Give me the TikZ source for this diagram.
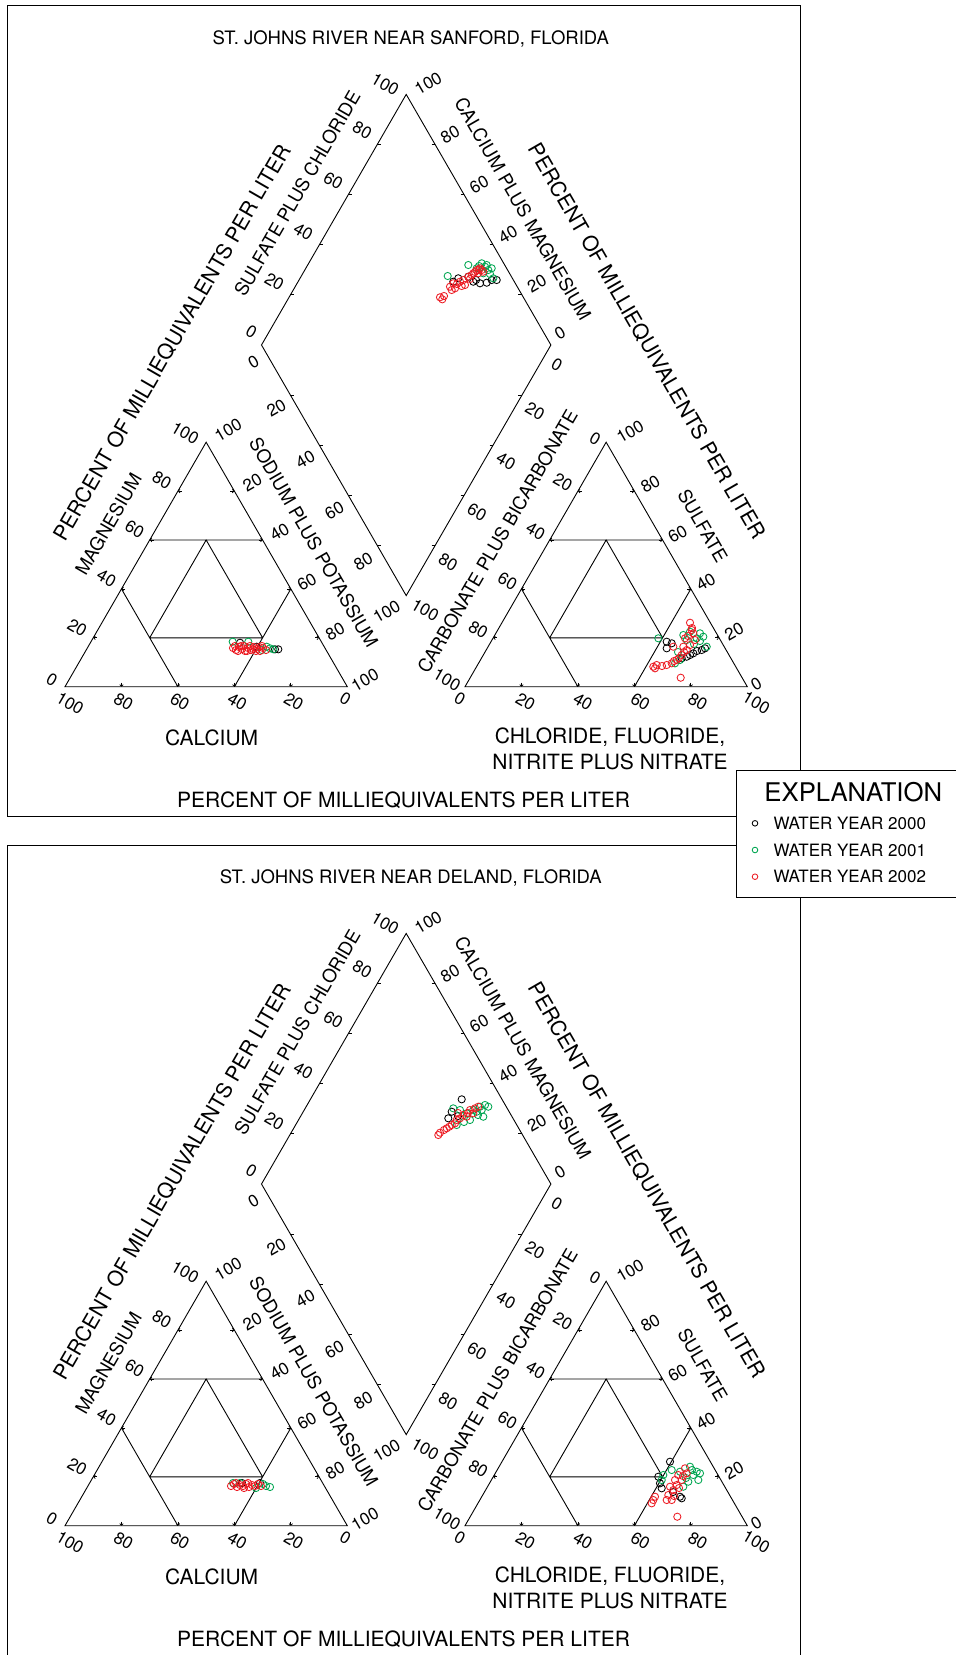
\documentclass[tikz,border=0pt]{standalone}
\usepackage{fontspec}
\setmainfont{TeX Gyre Heros}
\usetikzlibrary{arrows.meta}
\definecolor{dgreen}{RGB}{0,166,81}
\definecolor{dred}{RGB}{237,28,36}
\tikzset{
 axisline/.style={line width=0.9pt, line join=miter},
 tk/.style={line width=0.7pt, -{Straight Barb[length=1.6pt,width=3.6pt]}},
 dtick/.style={line width=0.8pt},
 num/.style={font=\fontsize{17}{17}\selectfont, inner sep=0pt},
 lbl/.style={font=\fontsize{18.5}{18.5}\selectfont, inner sep=0pt},
 big/.style={font=\fontsize{21}{21}\selectfont, inner sep=0pt},
 bsamp/.style={draw=black, line width=0.85pt},
 gsamp/.style={draw=dgreen, line width=0.85pt},
 rsamp/.style={draw=dred, line width=0.85pt},
 tri/.style={x={(282.3pt,0pt)}, y={(141.15pt,244.5pt)}},
 dia/.style={x={(144.7pt,250.6pt)}, y={(144.7pt,-250.6pt)}},
 frame/.style={line width=0.9pt},
}
\newcommand{\piperpanel}[2]{%
 \node[lbl] (#1title) at (410.7,39.2) {#2};
 % ---------- cation triangle
 \begin{scope}[shift={(65,686.7)}, tri]
  \draw[axisline] (0,0) coordinate (#1A) -- (1,0) coordinate (#1B) -- (0,1) coordinate (#1C) -- cycle;
  \draw[axisline] (0,0.6) -- (0.4,0.6) (0.2,0.2) -- (0.6,0.2) (0.2,0.2) -- (0.2,0.6) -- (0.6,0.2)
     (0,0.4) -- (0.4,0) (0.6,0.4) -- (0.6,0);
  \foreach \vv in {0.2,0.4,0.6,0.8}{
   \pgfmathsetmacro\ww{1-\vv}
   \draw[tk] ([xshift=4pt]0,\vv) -- (0,\vv);
   \draw[tk] ([xshift=-4pt]\ww,\vv) -- (\ww,\vv);
   \draw[tk] ([yshift=4pt]\vv,0) -- (\vv,0);
  }
  \foreach \vv/\lab/\dx/\dy in {1/100/-21/9, 0.8/80/-16/11, 0.6/60/-15/11, 0.4/40/-15/11, 0.2/20/-16/10, 0/0/-13/7}
   \node[num, rotate=-30] (#1mg\lab) at ([shift={(\dx pt,\dy pt)}]0,\vv) {\lab};
  \foreach \vv/\lab/\dx/\dy in {1/100/22/12, 0.8/20/18/8.5, 0.6/40/17/8, 0.4/60/16/7, 0.2/80/16/6.5, 0/100/17.7/6.7}{
   \pgfmathsetmacro\ww{1-\vv}
   \node[num, rotate=30] (#1na\vv) at ([shift={(\dx pt,\dy pt)}]\ww,\vv) {\lab};
  }
  \foreach \vv/\lab/\dx/\dy in {0/100/5/-16.6, 0.2/80/2/-15, 0.4/60/2/-15, 0.6/40/3/-15, 0.8/20/3/-15, 1/0/-2/-11.6}
   \node[num, rotate=-30] (#1ca\lab) at ([shift={(\dx pt,\dy pt)}]\vv,0) {\lab};
 \end{scope}
 % ---------- anion triangle
 \begin{scope}[shift={(465,686.7)}, tri]
  \draw[axisline] (0,0) coordinate (#1D) -- (1,0) coordinate (#1E) -- (0,1) coordinate (#1F) -- cycle;
  \draw[axisline] (0,0.6) -- (0.4,0.6) (0.2,0.2) -- (0.6,0.2) (0.2,0.2) -- (0.2,0.6) -- (0.6,0.2)
     (0,0.4) -- (0.4,0) (0.6,0.4) -- (0.6,0);
  \foreach \vv in {0.2,0.4,0.6,0.8}{
   \pgfmathsetmacro\ww{1-\vv}
   \draw[tk] ([xshift=4pt]0,\vv) -- (0,\vv);
   \draw[tk] ([xshift=-4pt]\ww,\vv) -- (\ww,\vv);
   \draw[tk] ([yshift=4pt]\vv,0) -- (\vv,0);
  }
  \foreach \vv/\lab/\dx/\dy in {1/0/-11/3, 0.8/20/-15/9, 0.6/40/-14/8.5, 0.4/60/-14/8, 0.2/80/-15/8, 0/100/-18/7}
   \node[num, rotate=-30] (#1co\lab) at ([shift={(\dx pt,\dy pt)}]0,\vv) {\lab};
  \foreach \vv/\lab/\dx/\dy in {1/100/24/10.5, 0.8/80/16/7, 0.6/60/15/6, 0.4/40/15/7, 0.2/20/15/6, 0/0/9/3}{
   \pgfmathsetmacro\ww{1-\vv}
   \node[num, rotate=30] (#1so\lab) at ([shift={(\dx pt,\dy pt)}]\ww,\vv) {\lab};
  }
  \foreach \vv/\lab/\dx/\dy in {0/0/-5/-11.6, 0.2/20/4/-15, 0.4/40/5/-15, 0.6/60/6/-15, 0.8/80/7/-15, 1/100/9/-16}
   \node[num, rotate=-30] (#1cl\lab) at ([shift={(\dx pt,\dy pt)}]\vv,0) {\lab};
 \end{scope}
 % ---------- diamond
 \begin{scope}[shift={(261.5,345)}, dia]
  \draw[axisline] (0,0) coordinate (#1L) -- (1,0) coordinate (#1T) -- (1,1) coordinate (#1R) -- (0,1) coordinate (#1Bm) -- cycle;
  \foreach \vv in {0.2,0.4,0.6,0.8}{
   \draw[dtick] ([xshift=3.5pt]\vv,0) -- (\vv,0);
   \draw[dtick] ([xshift=-3.5pt]1,\vv) -- (1,\vv);
   \draw[dtick] ([xshift=3.5pt]0,\vv) -- (0,\vv);
   \draw[dtick] ([xshift=-3.5pt]\vv,1) -- (\vv,1);
  }
  \foreach \vv/\lab/\dx/\dy in {1/100/-21/10, 0.8/80/-15/14, 0.6/60/-15/14, 0.4/40/-16/13, 0.2/20/-16/13, 0/0/-10/13}
   \node[num, rotate=-30] (#1sc\lab) at ([shift={(\dx pt,\dy pt)}]\vv,0) {\lab};
  \foreach \vv/\lab/\dx/\dy in {0/100/22/11, 0.2/80/15/10, 0.4/60/15/10, 0.6/40/15/10, 0.8/20/15/11, 1/0/9/12}
   \node[num, rotate=30] (#1cm\lab) at ([shift={(\dx pt,\dy pt)}]1,\vv) {\lab};
  \foreach \vv/\lab/\dx/\dy in {0/0/-8/-17, 0.2/20/-14/-13, 0.4/40/-14/-14, 0.6/60/-14/-15, 0.8/80/-14/-16, 1/100/-19.5/-16}
   \node[num, rotate=30] (#1ll\lab) at ([shift={(\dx pt,\dy pt)}]0,\vv) {\lab};
  \foreach \vv/\lab/\dx/\dy in {1/0/6/-20, 0.8/20/13/-16, 0.6/40/13/-16, 0.4/60/13/-17, 0.2/80/13/-17, 0/100/19/-14.4}
   \node[num, rotate=-30] (#1lr\lab) at ([shift={(\dx pt,\dy pt)}]\vv,1) {\lab};
 \end{scope}
 % ---------- axis titles
 \node[big, rotate=60] (#1pl) at (172.2,342.6) {PERCENT OF MILLIEQUIVALENTS PER LITER};
 \node[big, rotate=-60] (#1pr) at (646.7,341.3) {PERCENT OF MILLIEQUIVALENTS PER LITER};
 \node[lbl, rotate=60] (#1spc) at (297.2,193.5) {SULFATE PLUS CHLORIDE};
 \node[lbl, rotate=-60] (#1cpm) at (523,209.2) {CALCIUM PLUS MAGNESIUM};
 \node[lbl, rotate=60] (#1mag) at (108.4,524.3) {MAGNESIUM};
 \node[lbl, rotate=-60] (#1spp) at (313.8,542.6) {SODIUM PLUS POTASSIUM};
 \node[lbl, rotate=60] (#1cpb) at (497.5,541.3) {CARBONATE PLUS BICARBONATE};
 \node[lbl, rotate=-60] (#1sul) at (702.8,525.6) {SULFATE};
 \node[big] (#1cal) at (211.7,737.4) {CALCIUM};
 \node[big] (#1chl) at (610,737.4) {CHLORIDE, FLUORIDE,};
 \node[big] (#1nit) at (610,762) {NITRITE PLUS NITRATE};
 \node[big] (#1pb) at (403.6,800.2) {PERCENT OF MILLIEQUIVALENTS PER LITER};
}
\begin{document}
\begin{tikzpicture}[x=1pt, y=-1pt]
\useasboundingbox (0,0) rectangle (956,1655);
\fill[white] (0,0) rectangle (956,1655);
\draw[frame] (7,5.5) rectangle (800,816.7);
\draw[frame] (7,845) rectangle (800,1658);
\piperpanel{s}{ST. JOHNS RIVER NEAR SANFORD, FLORIDA}
\begin{scope}[yshift=-839pt]
\piperpanel{d}{ST. JOHNS RIVER NEAR DELAND, FLORIDA}
\end{scope}
% ---------- data, Sanford
\foreach \px/\py in {458.3/278.3, 468.3/276.7, 480/283.3, 486.7/282.7, 491.7/280, 496.7/280, 473.3/281.7, 453.3/281.7, 476/280,
  240/642.7, 275/649.3, 278.3/649.3, 256.7/646.7,
  666.7/641.7, 666.7/648.3, 671.7/643.3, 693.3/653.3, 701.7/650, 705/648.3, 690/655, 681.7/658.3, 686.7/656.7, 697/651}
  \draw[bsamp] (\px,\py) circle (3.6pt);
\foreach \px/\py in {447.7/276, 468.3/265, 481.7/263.3, 486.7/265, 491.7/268.3, 493.3/278.3, 483.3/273.3, 488.3/270, 476.7/268.3, 485/266.7, 490/274, 479/266,
  232.7/641.7, 248.3/641.7, 270/648.3, 273.3/649.3, 266.7/646.7, 262/650,
  658.3/638.3, 683.3/635, 690/631.7, 700/633.3, 703.3/636.7, 706.7/646.7, 686.7/640, 696.7/638.3, 680/660, 675/663.3, 694/644, 700/641, 678/652}
  \draw[gsamp] (\px,\py) circle (3.6pt);
\foreach \px/\py in {442.3/299.3, 440/297.3, 444/296, 450/286.7, 453.3/283.3, 455/288.3, 460/281.7, 463.3/280, 465/285, 468.3/276.7, 471.7/275, 473.3/273.3, 476.7/270, 478.3/273.3, 480/268.3, 483.3/271.7, 481.7/270, 461.7/286, 451.7/290, 457/284, 470/279, 475/272, 479/270,
  233/648, 236/650, 239/647, 242/649, 245/651, 248/648, 251/650, 254/647, 257/649, 260/651, 263/648, 266/650, 238/651, 250/646, 244/646, 256/651, 262/646, 235/646, 241/646, 247/651, 253/649, 259/647,
  673.3/646.7, 690/622.7, 685/638.3, 693.3/633.3, 695/640, 690/645, 686.7/650, 681.7/655, 676.7/660, 671.7/663.3, 666.7/665, 656.7/665, 653.3/666.7, 655/668.3, 680.7/677.7, 691.7/630, 683.3/646.7, 688/636, 692/628, 684/652, 679/658, 674/661, 662/666}
  \draw[rsamp] (\px,\py) circle (3.6pt);
% ---------- data, DeLand
\foreach \px/\py in {461.7/1099.3, 448.3/1118.3, 451.7/1111.7, 458/1116,
  242/1483, 260/1483,
  670/1461.7, 660/1483.3, 661.7/1488.3, 680/1496.7, 681.7/1498.3, 658.3/1476.7, 673/1492}
  \draw[bsamp] (\px,\py) circle (3.6pt);
\foreach \px/\py in {453.3/1108.3, 460/1110, 466.7/1113.3, 473.3/1110, 480/1106.7, 485/1105, 488.3/1106.7, 483.3/1116.7, 470/1120, 456.7/1125, 476.7/1111.7, 481.7/1110, 478/1115, 464/1122,
  233/1483, 240/1483, 266/1486, 270/1487, 263/1484, 256/1488,
  671.7/1470, 663.3/1475, 661.7/1480, 680/1471.7, 690/1466.7, 696.7/1471.7, 700/1473.3, 698.3/1480, 693.3/1475, 688.3/1481.7, 683.3/1486.7, 692/1470, 686/1478}
  \draw[gsamp] (\px,\py) circle (3.6pt);
\foreach \px/\py in {438.3/1135, 440/1132.7, 446.7/1128.3, 451.7/1125, 456.7/1120, 463.3/1115, 470/1110, 475/1108.3, 478.3/1106.7, 460/1118.3, 466.7/1116.7, 455/1123.3, 473.3/1113.3, 449.3/1126.7, 444/1130, 458/1113, 468/1113,
  231/1486, 234/1484, 237/1487, 240/1485, 243/1486, 246/1484, 249/1487, 252/1485, 255/1486, 258/1484, 261/1486, 236/1483, 248/1483, 244/1488,
  685/1468.3, 686.7/1473.3, 681.7/1480, 676.7/1485, 673.3/1490, 668.3/1495, 666.7/1500, 671.7/1500, 653.3/1500, 651.7/1503.3, 655/1496.7, 677.3/1516.7, 675/1480, 670/1486.7, 678.3/1475, 674/1496, 679/1488, 683/1476}
  \draw[rsamp] (\px,\py) circle (3.6pt);
% ---------- explanation
\filldraw[frame, fill=white] (736.7,770.7) rectangle (962,897.3);
\node[font=\fontsize{25.7}{25.7}\selectfont, inner sep=0pt] (expl) at (853.3,792.3) {EXPLANATION};
\draw[bsamp] (755,823.3) circle (2.8pt);
\draw[gsamp] (755,850) circle (2.8pt);
\draw[rsamp] (755,876.7) circle (2.8pt);
\node[font=\fontsize{17}{17}\selectfont, inner sep=0pt, anchor=west] (wy0) at (773.3,823.3) {WATER YEAR 2000};
\node[font=\fontsize{17}{17}\selectfont, inner sep=0pt, anchor=west] (wy1) at (773.3,850) {WATER YEAR 2001};
\node[font=\fontsize{17}{17}\selectfont, inner sep=0pt, anchor=west] (wy2) at (773.3,876.7) {WATER YEAR 2002};
\end{tikzpicture}
\end{document}
